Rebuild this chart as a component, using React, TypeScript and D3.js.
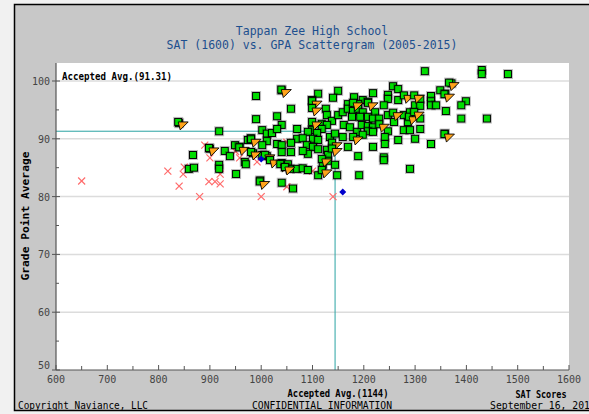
import * as d3 from 'd3';

const W = 589;
const H = 414;

const xTicks: number[] = [600, 700, 800, 900, 1000, 1100, 1200, 1300, 1400, 1500, 1600];
const xMinor: number[] = [650, 750, 850, 950, 1050, 1150, 1250, 1350, 1450, 1550];
const yTicks: number[] = [50, 60, 70, 80, 90, 100];
const yMinor: number[] = [55, 65, 75, 85, 95];

const avgSat = 1144;
const avgGpa = 91.31;

// [SAT, GPA]
const accepted: [number, number][] = [
  [840, 92.7], [918, 91.3], [867, 87.2], [900, 88.3], [929, 87.9], [939, 87.0], [949, 88.9], [958, 88.6],
  [859, 84.8], [869, 85.0], [918, 85.5], [918, 84.8], [951, 83.9],
  [990, 97.4], [1040, 98.4], [1058, 95.2], [990, 93.4], [1031, 93.9], [1040, 92.4], [1002, 91.5], [1011, 90.9],
  [1021, 91.0], [1031, 91.7], [1070, 91.7], [1070, 90.0], [974, 89.8], [980, 90.1], [1011, 89.6], [1031, 89.1],
  [1040, 88.9], [1040, 87.7], [1002, 88.9], [968, 86.0], [970, 85.6], [1002, 87.2], [984, 87.5], [1040, 85.8],
  [1052, 85.6], [1056, 84.8], [1070, 84.8], [998, 82.8], [1040, 82.4], [1062, 81.4], [1058, 87.7], [1058, 89.3],
  [1011, 87.0],
  [1111, 97.8], [1150, 98.3], [1140, 97.1], [1099, 96.7], [1181, 97.2], [1169, 96.0], [1126, 95.2], [1128, 94.1],
  [1138, 93.1], [1150, 94.1], [1159, 94.6], [1169, 95.2], [1179, 94.8], [1177, 93.8], [1161, 92.4], [1173, 92.0],
  [1118, 92.6], [1128, 92.4], [1118, 91.7], [1099, 91.5], [1091, 91.2], [1109, 91.0], [1081, 90.1], [1101, 90.0],
  [1111, 89.8], [1134, 90.3], [1144, 90.9], [1159, 90.3], [1089, 88.9], [1101, 88.6], [1111, 88.2], [1091, 87.4],
  [1081, 87.9], [1128, 88.1], [1130, 87.2], [1169, 88.6], [1130, 86.2], [1120, 85.5], [1144, 85.5], [1081, 84.9],
  [1091, 84.6], [1111, 83.7], [1148, 83.7], [1189, 87.0], [1191, 83.7], [1187, 91.2],
  [1218, 97.9], [1257, 99.1], [1267, 98.6], [1247, 97.6], [1247, 96.9], [1267, 96.7], [1198, 96.7], [1208, 96.4],
  [1239, 95.8], [1189, 96.0], [1189, 95.2], [1198, 94.6], [1222, 94.6], [1193, 93.8], [1208, 93.8], [1218, 93.5],
  [1230, 93.5], [1247, 94.1], [1278, 94.1], [1290, 94.6], [1300, 95.8], [1259, 92.9], [1286, 92.9], [1196, 92.4],
  [1208, 92.2], [1218, 92.0], [1208, 91.3], [1218, 91.2], [1198, 90.7], [1247, 91.3], [1278, 91.5], [1290, 91.5],
  [1267, 89.8], [1300, 90.0], [1241, 90.3], [1241, 89.1], [1218, 88.6], [1239, 86.8], [1239, 86.3], [1290, 84.8],
  [1319, 101.7], [1430, 101.9], [1430, 101.2], [1481, 101.2], [1371, 99.6], [1349, 98.4], [1359, 97.8], [1331, 97.4],
  [1331, 96.5], [1331, 95.8], [1341, 95.8], [1310, 96.9], [1310, 95.7], [1310, 93.5], [1310, 91.7], [1360, 94.8],
  [1399, 96.5], [1390, 95.8], [1390, 93.5], [1440, 93.5], [1358, 90.9], [1331, 89.1],
];

const waitlisted: [number, number][] = [
  [846, 92.4], [906, 87.9], [965, 88.0], [988, 89.4], [988, 87.2], [1015, 86.7], [1025, 85.8], [1045, 85.1],
  [1054, 84.6], [1005, 82.1], [1047, 98.0], [1107, 96.0], [1107, 94.8], [1107, 92.4], [1146, 88.8], [1146, 87.8],
  [1126, 86.0], [1126, 84.1], [1187, 95.7], [1187, 89.8], [1216, 95.7], [1238, 92.0], [1265, 94.0], [1286, 97.0],
  [1306, 97.0], [1296, 93.3], [1306, 94.1], [1374, 99.2], [1365, 97.2], [1365, 90.3],
];

const denied: [number, number][] = [
  [650, 82.7], [818, 84.4], [850, 85.1], [848, 83.9], [840, 81.8], [880, 80.0], [890, 88.9], [900, 86.7],
  [898, 82.6], [910, 82.6], [920, 82.2], [920, 83.9], [950, 87.8], [958, 86.7], [992, 86.0], [1000, 80.0],
  [1050, 89.4], [1050, 81.7], [1100, 84.4], [1140, 80.0],
];

const other: [number, number][] = [[1000, 86.5], [1159, 80.8]];

const mono = '"DejaVu Sans Mono", monospace';

export default function App() {
  const x = d3.scaleLinear().domain([600, 1600]).range([56, 569]);
  const y = d3.scaleLinear().domain([50, 100]).range([370, 81]);
  const top = 63;

  const square = (px: number, py: number, key: string) => (
    <g key={key}>
      <rect x={px - 4.5} y={py - 4.5} width={9} height={9} fill="none" stroke="#000" strokeOpacity={0.25} strokeWidth={1} />
      <rect x={px - 3.5} y={py - 3.5} width={7} height={7} fill="#00dd00" stroke="#000" strokeWidth={1} />
    </g>
  );

  return (
    <svg width={W} height={H} style={{ position: 'absolute', left: 0, top: 0 }}>
      <rect x={0} y={0} width={W} height={H} fill="#f1f1f1" />
      <rect x={14.5} y={4.5} width={W + 10} height={406} fill="#c8c8c8" stroke="#000" strokeWidth={1.5} />

      <text x={312} y={35} textAnchor="middle" fontFamily={mono} fontSize={11.5} fill="#1d4f8e">Tappan Zee High School</text>
      <text x={312} y={49} textAnchor="middle" fontFamily={mono} fontSize={11.5} fill="#1d4f8e">SAT (1600) vs. GPA Scattergram (2005-2015)</text>

      <rect x={56} y={top} width={513} height={370 - top} fill="#fff" />

      {yTicks.filter(t => t > 50).map(t => (
        <line key={'g' + t} x1={56} x2={569} y1={y(t)} y2={y(t)} stroke="#dcdcdc" strokeWidth={1.5} />
      ))}

      {/* accepted average */}
      <line x1={56} x2={x(avgSat)} y1={y(avgGpa)} y2={y(avgGpa)} stroke="#2aa3a3" strokeWidth={1} />
      <line x1={x(avgSat)} x2={x(avgSat)} y1={y(avgGpa)} y2={370} stroke="#2aa3a3" strokeWidth={1} />

      {denied.map((d, i) => {
        const px = x(d[0]), py = y(d[1]);
        return (
          <g key={'d' + i} stroke="#ff6b6b" strokeWidth={1.2}>
            <line x1={px - 3.5} y1={py - 3.5} x2={px + 3.5} y2={py + 3.5} />
            <line x1={px - 3.5} y1={py + 3.5} x2={px + 3.5} y2={py - 3.5} />
          </g>
        );
      })}

      {accepted.map((d, i) => square(x(d[0]), y(d[1]), 'a' + i))}

      {waitlisted.map((d, i) => {
        const px = x(d[0]), py = y(d[1]);
        return (
          <g key={'w' + i}>
            {square(px - 4, py - 3, 's')}
            <path d={`M${px - 4},${py - 3}L${px + 6},${py - 3}L${px - 2},${py + 5}Z`} fill="#ffa31a" stroke="#000" strokeWidth={0.9} />
          </g>
        );
      })}

      {other.map((d, i) => {
        const px = x(d[0]), py = y(d[1]);
        return <path key={'o' + i} d={`M${px},${py - 3.5}L${px + 3.5},${py}L${px},${py + 3.5}L${px - 3.5},${py}Z`} fill="#0000cc" />;
      })}

      <text x={62} y={80} fontFamily={mono} fontSize={10} fontWeight="bold" fill="#000" textLength={110} lengthAdjust="spacingAndGlyphs">Accepted Avg.(91.31)</text>

      {/* axes */}
      <line x1={56} x2={56} y1={top} y2={370} stroke="#555" strokeWidth={1.2} />
      <line x1={56} x2={569} y1={370} y2={370} stroke="#555" strokeWidth={1.2} />
      {yTicks.map(t => (
        <g key={'yt' + t}>
          <line x1={52} x2={60} y1={y(t)} y2={y(t)} stroke="#555" />
          <text x={50} y={t === 50 ? y(t) - 1 : y(t) + 4} textAnchor="end" fontFamily={mono} fontSize={10} fill="#444">{t}</text>
        </g>
      ))}
      {yMinor.map(t => <line key={'ym' + t} x1={56} x2={59} y1={y(t)} y2={y(t)} stroke="#555" />)}
      {xTicks.map(t => (
        <g key={'xt' + t}>
          <line x1={x(t)} x2={x(t)} y1={370} y2={365} stroke="#555" />
          <text x={x(t)} y={383} textAnchor="middle" fontFamily={mono} fontSize={10} fill="#444">{t}</text>
        </g>
      ))}
      {xMinor.map(t => <line key={'xm' + t} x1={x(t)} x2={x(t)} y1={370} y2={366} stroke="#555" />)}

      <text transform="translate(29,216) rotate(-90)" textAnchor="middle" fontFamily={mono} fontSize={10} fontWeight="bold" fill="#000" textLength={129} lengthAdjust="spacingAndGlyphs">Grade Point Average</text>
      <text x={338} y={397} textAnchor="middle" fontFamily={mono} fontSize={11} fontWeight="bold" fill="#000" textLength={101} lengthAdjust="spacingAndGlyphs">Accepted Avg.(1144)</text>
      <text x={541} y={398} textAnchor="middle" fontFamily={mono} fontSize={11} fontWeight="bold" fill="#000" textLength={51} lengthAdjust="spacingAndGlyphs">SAT Scores</text>
      <text x={18} y={409} fontFamily={mono} fontSize={10} fill="#000" textLength={130} lengthAdjust="spacingAndGlyphs">Copyright Naviance, LLC</text>
      <text x={322} y={409} textAnchor="middle" fontFamily={mono} fontSize={10} fill="#000" textLength={140} lengthAdjust="spacingAndGlyphs">CONFIDENTIAL INFORMATION</text>
      <text x={490} y={409} fontFamily={mono} fontSize={10} fill="#000" textLength={100} lengthAdjust="spacingAndGlyphs">September 16, 201</text>
    </svg>
  );
}
